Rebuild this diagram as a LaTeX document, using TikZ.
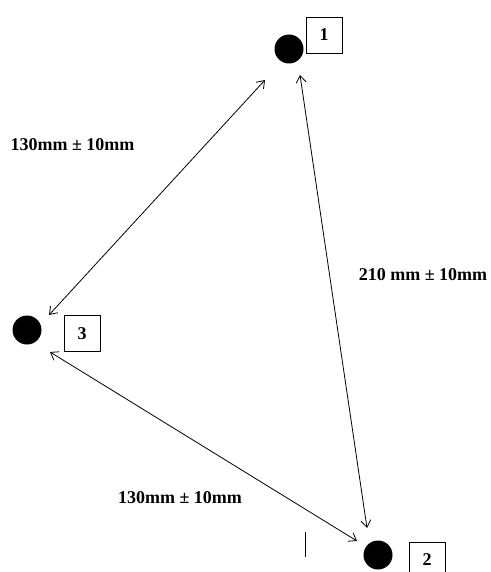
\documentclass[tikz,border=0pt]{standalone}
\usepackage{fontspec}
\setmainfont{Liberation Serif}
\usetikzlibrary{arrows.meta}
\begin{document}
\begin{tikzpicture}[x=1pt,y=-1pt,
  dot/.style={circle,fill=black,minimum size=29pt,inner sep=0pt},
  numbox/.style={draw,line width=0.9pt,minimum width=36pt,minimum height=36pt,inner sep=0pt,font=\bfseries\fontsize{18}{20}\selectfont},
  lbl/.style={font=\bfseries\fontsize{18}{20}\selectfont,inner sep=0pt},
  dim/.style={line width=0.8pt,{Straight Barb[length=7pt,width=10pt]}-{Straight Barb[length=7pt,width=10pt]}}]
\clip (0,0) rectangle (490,572);
\node[dot] (d1) at (289,49) {};
\node[numbox] (b1) at (324,35) {1};
\node[dot] (d2) at (378,555) {};
\node[numbox] (b2) at (427,560) {2};
\node[dot] (d3) at (27,330) {};
\node[numbox] (b3) at (82,333.5) {3};
\coordinate (a13s) at (265,80);
\coordinate (a13e) at (49,315);
\coordinate (a12s) at (300,75);
\coordinate (a12e) at (367,528);
\coordinate (a32s) at (50,352);
\coordinate (a32e) at (357,541);
\draw[dim] (a13s) -- (a13e);
\draw[dim] (a12s) -- (a12e);
\draw[dim] (a32s) -- (a32e);
\node[lbl] (l1) at (72.5,145) {130mm ± 10mm};
\node[lbl] (l2) at (423,275) {210 mm ± 10mm};
\node[lbl] (l3) at (180,498) {130mm ± 10mm};
\coordinate (t1) at (305,532);
\coordinate (t2) at (305,557);
\draw[line width=0.9pt] (t1) -- (t2);
\end{tikzpicture}
\end{document}
